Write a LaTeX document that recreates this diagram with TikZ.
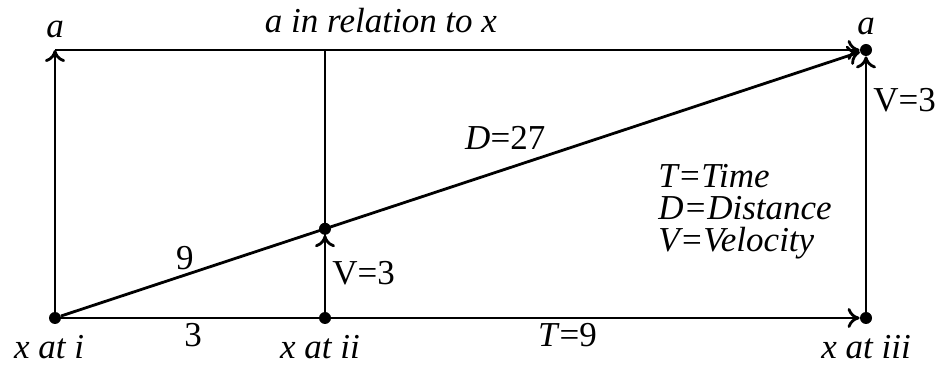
\documentclass[tikz,border=0pt]{standalone}
\usepackage{fontspec}
\setmainfont{Liberation Serif}
\usetikzlibrary{positioning, arrows.meta, calc}

\begin{document}
\begin{tikzpicture}[x=0.5pt, y=-0.5pt, font=\fontsize{17.5}{16}\selectfont,
	dot/.style={circle, fill, inner sep=0pt, minimum size=6pt},
	lbl/.style={inner sep=0pt, font=\fontsize{17.5}{16}\selectfont\itshape},
	num/.style={inner sep=0pt},
	arrow/.style={-{To[length=6pt, width=10pt]}, line width=1.4pt}]
	
	\useasboundingbox (0,0) rectangle (937,368);
	
	% Puntos de la figura
	\node[dot] (xi) at (55,318) {};
	\node[dot] (xii) at (325,318) {};
	\node[dot] (xiii) at (866,318) {};
	\node[dot] (atop) at (866,50) {};
	\coordinate (aleft) at (55,50);
	\coordinate (mtop) at (325,50);
	\node[dot] (mid) at (intersection of xi--atop and xii--mtop) {};
	
	% Marco
	\draw[arrow] (xi) -- (aleft);
	\draw[arrow] (aleft) -- (atop);
	\draw[line width=1pt] (mtop) -- (xii);
	\draw[arrow] (xi) -- node[num, pos=0.165, below=2pt] (three) {3}
		node[num, pos=0.634, below=2pt] (tnine) {\textit{T}=9} (xiii);
	\draw[arrow] (xiii) -- node[num, pos=0.828, right=3pt] (vright) {V=3} (atop);
	
	% Diagonal
	\draw[arrow] (xi) -- node[num, pos=0.155, above=2pt] (nine) {9}
		node[num, pos=0.556, above=9pt] (dist) {\textit{D}=27} (atop);
	\draw[arrow] (xii) -- node[num, midway, right=3pt] (vmid) {V=3} (mid);
	
	% Etiquetas
	\node[lbl, above=6pt of aleft] (la) {a};
	\node[lbl, above=4pt of atop] (ra) {a};
	\node[lbl, above=8.5pt of mtop, xshift=28pt] (title) {a in relation to x};
	\node[lbl, below=5.5pt of xi, xshift=-3pt] (lxi) {x at i};
	\node[lbl, below=5.5pt of xii, xshift=-2.5pt] (lxii) {x at ii};
	\node[lbl, below=5.5pt of xiii] (lxiii) {x at iii};
	\node[lbl, align=left, anchor=north west] (legend) at (658,164)
		{T=Time\\D=Distance\\V=Velocity};
\end{tikzpicture}
\end{document}
